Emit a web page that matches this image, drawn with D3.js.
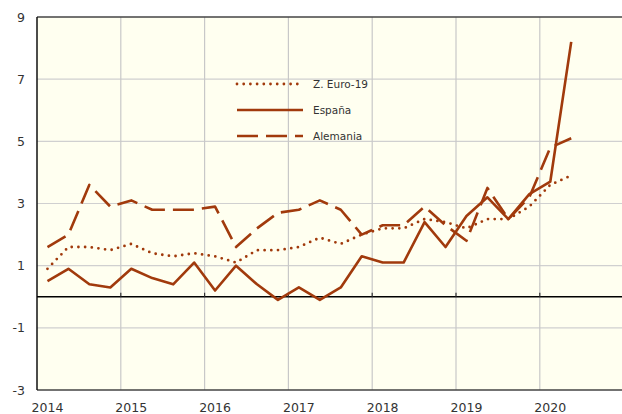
<!DOCTYPE html>
<html>
<head>
<meta charset="utf-8">
<script src="https://cdn.jsdelivr.net/npm/d3@7"></script>
<style>
  html, body { margin: 0; padding: 0; background: #fff; }
  svg { display: block; }
  text { font-family: "DejaVu Sans", Verdana, sans-serif; fill: #333; }
</style>
</head>
<body>
<svg id="chart" width="622" height="414"></svg>
<script>
// quarterly series, 2014 Q1 .. 2020 Q2
const startYear = 2014;
const espana = [0.5, 0.9, 0.4, 0.3, 0.9, 0.6, 0.4, 1.1, 0.2, 1.0, 0.4, -0.1, 0.3,
  -0.1, 0.3, 1.3, 1.1, 1.1, 2.4, 1.6, 2.6, 3.2, 2.5, 3.3, 3.7, 8.2];
const euro = [0.9, 1.6, 1.6, 1.5, 1.7, 1.4, 1.3, 1.4, 1.3, 1.1, 1.5, 1.5, 1.6,
  1.9, 1.7, 2.0, 2.2, 2.2, 2.5, 2.4, 2.2, 2.5, 2.5, 2.9, 3.6, 3.9];
const alemania = [1.6, 2.0, 3.6, 2.9, 3.1, 2.8, 2.8, 2.8, 2.9, 1.6, 2.2, 2.7, 2.8,
  3.1, 2.8, 2.0, 2.3, 2.3, 2.9, 2.3, 1.8, 3.5, 2.5, 3.2, 4.8, 5.1];
const years = [2014, 2015, 2016, 2017, 2018, 2019, 2020];
const yTicks = [-3, -1, 1, 3, 5, 7, 9];
const seriesNames = ["Z. Euro-19", "España", "Alemania"];

const color = "#a13a0c";
const width = 622, height = 414;
const margin = { top: 17, right: 0, bottom: 24, left: 37 };

const svg = d3.select("#chart");

const x = d3.scaleLinear()
  .domain([2014, 2021])
  .range([margin.left, margin.left + 7 * 83.8]);
const y = d3.scaleLinear()
  .domain([-3, 9])
  .range([height - margin.bottom, margin.top]);

const right = width - margin.right;

// background
svg.append("rect")
  .attr("x", margin.left).attr("y", margin.top)
  .attr("width", right - margin.left)
  .attr("height", y(-3) - margin.top)
  .attr("fill", "#fffff0");

// grid
svg.append("g")
  .selectAll("line")
  .data(yTicks.filter(d => d > -3 && d < 9))
  .join("line")
  .attr("x1", margin.left).attr("x2", right)
  .attr("y1", d => y(d)).attr("y2", d => y(d))
  .attr("stroke", "#d0d0d0").attr("stroke-width", 1.2);

svg.append("g")
  .selectAll("line")
  .data(years.slice(1))
  .join("line")
  .attr("x1", d => x(d)).attr("x2", d => x(d))
  .attr("y1", margin.top).attr("y2", y(-3))
  .attr("stroke", "#c8c8c8").attr("stroke-width", 1.2);

// frame
svg.append("line")
  .attr("x1", margin.left).attr("x2", right)
  .attr("y1", margin.top).attr("y2", margin.top)
  .attr("stroke", "#444").attr("stroke-width", 1.5);
svg.append("line")
  .attr("x1", margin.left).attr("x2", right)
  .attr("y1", y(-3)).attr("y2", y(-3))
  .attr("stroke", "#444").attr("stroke-width", 1.5);
svg.append("line")
  .attr("x1", margin.left).attr("x2", margin.left)
  .attr("y1", margin.top).attr("y2", y(-3))
  .attr("stroke", "#111").attr("stroke-width", 1.5);

// zero line + year ticks
svg.append("line")
  .attr("x1", margin.left).attr("x2", right)
  .attr("y1", y(0)).attr("y2", y(0))
  .attr("stroke", "#000").attr("stroke-width", 1.5);
svg.append("g")
  .selectAll("line")
  .data(years.slice(1))
  .join("line")
  .attr("x1", d => x(d)).attr("x2", d => x(d))
  .attr("y1", y(0)).attr("y2", y(0) - 4)
  .attr("stroke", "#333").attr("stroke-width", 1.2);

// axis labels
svg.append("g")
  .selectAll("text")
  .data(yTicks)
  .join("text")
  .attr("x", 25).attr("y", d => y(d))
  .attr("dy", "0.36em")
  .attr("text-anchor", "end")
  .style("font-size", "12.5px")
  .text(d => d);

svg.append("g")
  .selectAll("text")
  .data(years)
  .join("text")
  .attr("x", d => x(d + 0.125))
  .attr("y", 412)
  .attr("text-anchor", "middle")
  .style("font-size", "12.5px")
  .text(d => d);

// lines
const xq = i => x(startYear + (i + 0.5) / 4);
const line = d3.line().x((d, i) => xq(i)).y(d => y(d));

const styles = [
  { data: euro, dash: "0,6.7", cap: "round", w: 2.8 },
  { data: espana, dash: null, cap: "butt", w: 2.6 },
  { data: alemania, dash: "21,8", cap: "butt", w: 2.6 },
];

svg.append("g")
  .selectAll("path")
  .data(styles)
  .join("path")
  .attr("d", d => line(d.data))
  .attr("fill", "none")
  .attr("stroke", color)
  .attr("stroke-width", d => d.w)
  .attr("stroke-dasharray", d => d.dash)
  .attr("stroke-linecap", d => d.cap)
  .attr("stroke-linejoin", "round");

// legend
const legend = svg.append("g")
  .selectAll("g")
  .data(styles)
  .join("g")
  .attr("transform", (d, i) => `translate(237,${84 + i * 26})`);
legend.append("line")
  .attr("x1", 0).attr("x2", 66)
  .attr("stroke", color)
  .attr("stroke-width", d => d.w)
  .attr("stroke-dasharray", d => d.dash)
  .attr("stroke-linecap", d => d.cap);
legend.append("text")
  .attr("x", 76).attr("dy", "0.36em")
  .style("font-size", "10.5px")
  .text((d, i) => seriesNames[i]);
</script>
</body>
</html>
